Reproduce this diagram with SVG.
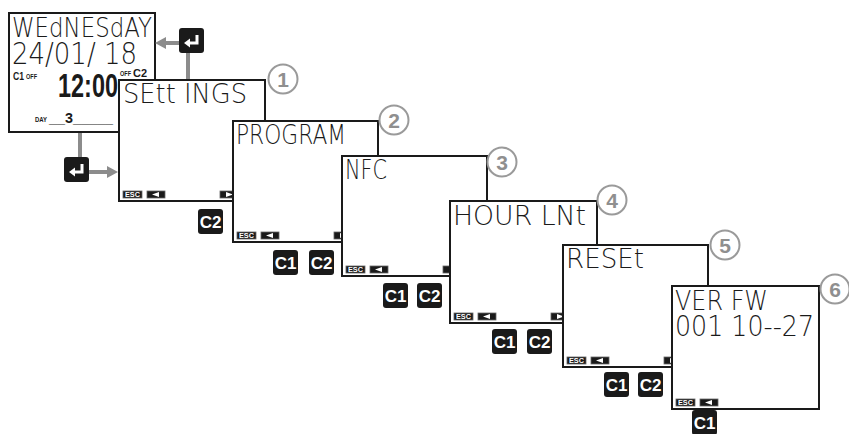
<svg xmlns="http://www.w3.org/2000/svg" xmlns:xlink="http://www.w3.org/1999/xlink" width="849" height="434" viewBox="0 0 849 434">
<style>
.scr{fill:#fff;stroke:#1a1a1a;stroke-width:2}
.lcd{font-family:"DejaVu Sans",sans-serif;font-weight:200;fill:#1a1a1a}
.bold{font-family:"Liberation Sans Narrow","Liberation Sans",sans-serif;font-weight:bold;fill:#1a1a1a}
.key{fill:#1a1a1a}
.kl{font-family:"Liberation Sans Narrow","Liberation Sans",sans-serif;font-weight:bold;fill:#fff;font-size:17px;text-anchor:middle}
.num circle{fill:#fff;stroke:#9a9a9a;stroke-width:2}
.num text{font-family:"Liberation Sans",sans-serif;font-weight:bold;font-size:21px;fill:#8f8f8f;text-anchor:middle}
.sk{fill:#1a1a1a;stroke:#666;stroke-width:0.8}
.esc{font-family:"Liberation Sans",sans-serif;font-weight:bold;font-size:6.5px;fill:#fff;text-anchor:middle}
.conn{stroke:#8c8c8c;stroke-width:4;fill:none}
.ah{fill:#8c8c8c}
</style>
<defs>
<g id="esc"><rect width="19" height="7" class="sk"/><text x="9.5" y="6.2" class="esc" textLength="15" lengthAdjust="spacingAndGlyphs">ESC</text></g>
<g id="kL"><rect width="18" height="7" class="sk"/><path d="M5 3.5 L12 1 V6 Z" fill="#fff"/></g>
<g id="kR"><rect width="18" height="7" class="sk"/><path d="M13 3.5 L6 1 V6 Z" fill="#fff"/></g>
<g id="ent"><rect width="25" height="25" rx="3" fill="#1a1a1a"/><path d="M18 7 V15 H10" stroke="#fff" stroke-width="3" fill="none"/><path d="M5 15 L11 10.5 V19.5 Z" fill="#fff"/></g>
<g id="b1"><rect width="25" height="25" rx="3" class="key"/><text x="12.5" y="19" class="kl">C1</text></g>
<g id="b2"><rect width="25" height="25" rx="3" class="key"/><text x="12.5" y="19" class="kl">C2</text></g>
</defs>

<g id="main-screen">
<rect x="9" y="13" width="146" height="119" class="scr"/>
<text x="12" y="37" class="lcd" font-size="27" textLength="140" lengthAdjust="spacingAndGlyphs">WEdNESdAY</text>
<text x="12" y="64" class="lcd" font-size="30" textLength="125" lengthAdjust="spacingAndGlyphs">24/01/ 18</text>
<text x="13" y="80" class="bold" font-size="11" textLength="11" lengthAdjust="spacingAndGlyphs">C1</text>
<text x="26" y="79" class="bold" font-size="7" textLength="11" lengthAdjust="spacingAndGlyphs">OFF</text>
<text x="58" y="97" class="bold" font-size="33" textLength="60" lengthAdjust="spacingAndGlyphs">12:00</text>
<text x="120" y="76" class="bold" font-size="7" textLength="11" lengthAdjust="spacingAndGlyphs">OFF</text>
<text x="133" y="77" class="bold" font-size="11" textLength="14" lengthAdjust="spacingAndGlyphs">C2</text>
<text x="35" y="122" class="bold" font-size="7" textLength="12" lengthAdjust="spacingAndGlyphs">DAY</text>
<text x="49" y="123" class="bold" font-size="14" textLength="64" lengthAdjust="spacingAndGlyphs">__3_____</text>
</g>

<g id="enter-top"><use xlink:href="#ent" x="179" y="28"/></g>
<g id="enter-bottom"><use xlink:href="#ent" x="64" y="157"/></g>

<g id="connectors">
<line x1="188" y1="53" x2="188" y2="80" class="conn"/>
<line x1="179" y1="43" x2="164" y2="43" class="conn"/>
<path d="M155 43 L166 37 V49 Z" class="ah"/>
<line x1="80" y1="133" x2="80" y2="157" class="conn"/>
<line x1="89" y1="172" x2="109" y2="172" class="conn"/>
<path d="M118 172 L107 166 V178 Z" class="ah"/>
</g>

<g id="screen-1">
<rect x="119" y="80" width="146" height="121" class="scr"/>
<text x="123" y="103" class="lcd" font-size="26" textLength="124" lengthAdjust="spacingAndGlyphs">SEtt INGS</text>
<use xlink:href="#esc" x="123" y="191"/><use xlink:href="#kL" x="147" y="191"/><use xlink:href="#kR" x="220" y="191"/>
</g>
<g id="num-1" class="num"><circle cx="283" cy="79" r="14.5"/><text x="283" y="87">1</text></g>
<g id="btn-1"><use xlink:href="#b2" x="198" y="209"/></g>

<g id="screen-2">
<rect x="233" y="121" width="145" height="121" class="scr"/>
<text x="236" y="144" class="lcd" font-size="26" textLength="110" lengthAdjust="spacingAndGlyphs">PROGRAM</text>
<use xlink:href="#esc" x="237" y="232"/><use xlink:href="#kL" x="261" y="232"/><use xlink:href="#kR" x="334" y="232"/>
</g>
<g id="num-2" class="num"><circle cx="394" cy="120" r="14.5"/><text x="394" y="128">2</text></g>
<g id="btn-2"><use xlink:href="#b1" x="273" y="250"/><use xlink:href="#b2" x="309" y="250"/></g>

<g id="screen-3">
<rect x="342" y="156" width="145" height="120" class="scr"/>
<text x="345" y="179" class="lcd" font-size="26" textLength="42" lengthAdjust="spacingAndGlyphs">NFC</text>
<use xlink:href="#esc" x="346" y="266"/><use xlink:href="#kL" x="370" y="266"/><use xlink:href="#kR" x="443" y="266"/>
</g>
<g id="num-3" class="num"><circle cx="502" cy="162" r="14.5"/><text x="502" y="170">3</text></g>
<g id="btn-3"><use xlink:href="#b1" x="383" y="283"/><use xlink:href="#b2" x="417" y="283"/></g>

<g id="screen-4">
<rect x="450" y="201" width="147" height="122" class="scr"/>
<text x="453" y="225" class="lcd" font-size="26" textLength="133" lengthAdjust="spacingAndGlyphs">HOUR LNt</text>
<use xlink:href="#esc" x="454" y="313"/><use xlink:href="#kL" x="478" y="313"/><use xlink:href="#kR" x="551" y="313"/>
</g>
<g id="num-4" class="num"><circle cx="612" cy="200" r="14.5"/><text x="612" y="208">4</text></g>
<g id="btn-4"><use xlink:href="#b1" x="492" y="329"/><use xlink:href="#b2" x="527" y="329"/></g>

<g id="screen-5">
<rect x="563" y="245" width="145" height="122" class="scr"/>
<text x="566" y="268" class="lcd" font-size="26" textLength="78" lengthAdjust="spacingAndGlyphs">RESEt</text>
<use xlink:href="#esc" x="567" y="357"/><use xlink:href="#kL" x="591" y="357"/><use xlink:href="#kR" x="664" y="357"/>
</g>
<g id="num-5" class="num"><circle cx="725" cy="245" r="14.5"/><text x="725" y="253">5</text></g>
<g id="btn-5"><use xlink:href="#b1" x="604" y="372"/><use xlink:href="#b2" x="638" y="372"/></g>

<g id="screen-6">
<rect x="672" y="286" width="147" height="123" class="scr"/>
<text x="675" y="310" class="lcd" font-size="26" textLength="93" lengthAdjust="spacingAndGlyphs">VER FW</text>
<text x="675" y="336" class="lcd" font-size="28" textLength="139" lengthAdjust="spacingAndGlyphs">001 10--27</text>
<use xlink:href="#esc" x="676" y="399"/><use xlink:href="#kL" x="700" y="399"/>
</g>
<g id="num-6" class="num"><circle cx="835" cy="289" r="14.5"/><text x="835" y="297">6</text></g>
<g id="btn-6"><use xlink:href="#b1" x="692" y="410"/></g>
</svg>
